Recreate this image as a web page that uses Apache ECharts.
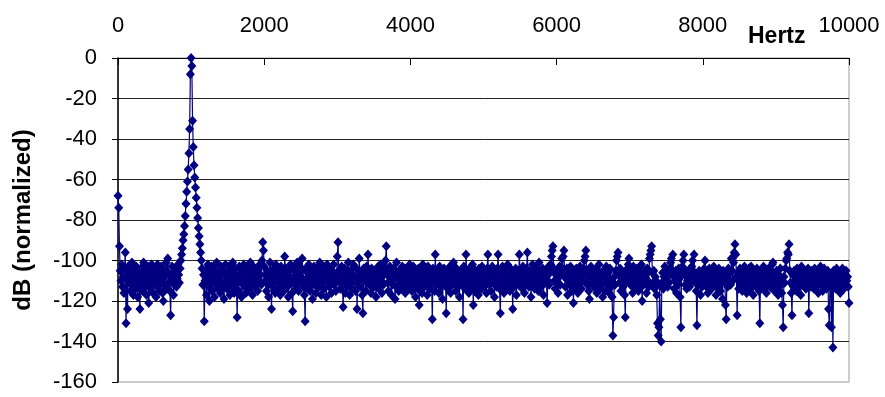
<!DOCTYPE html>
<html>
<head>
<meta charset="utf-8">
<script src="https://cdn.jsdelivr.net/npm/echarts@6/dist/echarts.min.js"></script>
<style>
html,body{margin:0;padding:0;background:#fff;}
#chart{width:885px;height:397px;}
</style>
</head>
<body>
<div id="chart"></div>
<script>
// Frequency bin width (Hz) of the spectrum; bin i is at i * binHz
const binHz = 10;
// Tick labels
const xTicks = [0, 2000, 4000, 6000, 8000, 10000];
const yTicks = [0, -20, -40, -60, -80, -100, -120, -140, -160];
const xName = 'Hertz';
const yName = 'dB (normalized)';
// Spectrum magnitude in dB (normalized), one value per bin, 0..10000 Hz
const dB = [
-68,-74,-93,-105,-110,-102,-113,-108,-116,-104,-96,-131,-107,-124,-103,-111,-106,-115,-109,-101,-112,-117,-105,-108,-114,-103,-110,-118,-106,-112,-124,-104,-109,-115,-107,-101,-113,-110,-105,-117,-108,-103,-121,-111,-106,-114,-102,-109,-116,-107,
-111,-104,-118,-108,-102,-113,-106,-115,-110,-103,-109,-116,-120,-105,-112,-107,-101,-114,-99,-106,-111,-115,-127,-108,-103,-110,-117,-106,-112,-104,-113,-109,-102,-107,-111,-104,-100,-97,-94,-90,-87,-83,-78,-72,-66,-61,-55,-47,-35,-8,
0,-4,-31,-44,-53,-59,-64,-69,-74,-79,-84,-88,-92,-96,-100,-104,-112,-107,-130,-110,-105,-117,-108,-102,-113,-120,-106,-111,-103,-115,-109,-104,-118,-107,-112,-101,-110,-114,-106,-108,-116,-103,-111,-105,-113,-119,-107,-102,-110,-114,
-106,-112,-103,-117,-109,-105,-114,-101,-110,-116,-107,-104,-112,-128,-108,-115,-103,-110,-106,-118,-111,-105,-102,-113,-108,-116,-109,-104,-112,-107,-114,-101,-110,-106,-117,-103,-109,-113,-105,-111,-108,-115,-104,-110,-102,-107,-112,-100,-91,-95,
-103,-110,-107,-115,-105,-112,-118,-108,-101,-111,-124,-106,-113,-104,-109,-116,-102,-110,-107,-114,-105,-111,-117,-103,-108,-112,-106,-115,-98,-104,-110,-107,-113,-118,-105,-109,-102,-111,-116,-125,-108,-104,-112,-106,-114,-101,-109,-115,-107,-103,
-111,-105,-99,-109,-113,-117,-130,-104,-110,-106,-114,-102,-108,-115,-111,-105,-119,-107,-103,-112,-109,-116,-104,-110,-106,-113,-101,-108,-117,-105,-111,-103,-114,-109,-106,-118,-102,-110,-107,-113,-104,-111,-116,-105,-109,-102,-112,-107,-115,-110,
-98,-91,-105,-110,-114,-107,-103,-112,-123,-108,-104,-116,-110,-106,-113,-101,-109,-117,-105,-111,-107,-114,-102,-110,-108,-115,-104,-124,-109,-112,-99,-106,-113,-108,-117,-126,-104,-110,-107,-115,-103,-111,-97,-106,-112,-109,-116,-104,-110,-107,
-113,-105,-109,-118,-106,-111,-103,-114,-108,-102,-110,-116,-105,-112,-107,-104,-100,-93,-106,-111,-115,-108,-103,-110,-117,-106,-112,-104,-109,-119,-107,-101,-113,-108,-115,-105,-110,-106,-114,-103,-109,-112,-107,-116,-104,-110,-105,-113,-108,-102,
-111,-106,-115,-109,-103,-112,-107,-118,-105,-110,-114,-104,-122,-108,-111,-106,-116,-102,-109,-113,-107,-105,-112,-117,-103,-110,-108,-114,-106,-111,-129,-104,-109,-115,-97,-107,-112,-105,-110,-116,-103,-108,-113,-106,-119,-110,-104,-111,-107,-126,
-109,-114,-105,-110,-103,-116,-108,-112,-106,-101,-111,-107,-115,-104,-109,-113,-106,-118,-110,-105,-112,-108,-129,-103,-110,-114,-97,-106,-111,-109,-116,-104,-108,-113,-107,-102,-122,-110,-115,-105,-109,-112,-106,-117,-104,-110,-108,-114,-103,-111,
-107,-113,-105,-110,-116,-104,-97,-109,-112,-106,-115,-108,-103,-111,-107,-118,-105,-110,-113,-104,-97,-109,-114,-126,-106,-111,-103,-108,-116,-105,-110,-113,-107,-102,-112,-108,-115,-104,-109,-111,-124,-106,-113,-108,-104,-117,-110,-105,-112,-97,
-105,-111,-108,-114,-103,-109,-116,-106,-112,-104,-96,-107,-113,-110,-105,-118,-108,-102,-111,-106,-114,-109,-104,-112,-107,-115,-101,-110,-106,-113,-108,-104,-117,-109,-105,-111,-107,-121,-110,-103,-112,-106,-102,-98,-95,-93,-104,-110,-114,-107,
-111,-105,-116,-108,-103,-112,-107,-99,-104,-98,-95,-106,-113,-109,-104,-117,-110,-106,-112,-103,-108,-115,-105,-121,-110,-107,-113,-104,-109,-116,-106,-111,-103,-108,-114,-107,-110,-104,-100,-98,-95,-105,-112,-108,-115,-119,-107,-103,-111,-109,
-105,-113,-108,-110,-104,-116,-107,-111,-102,-109,-114,-106,-112,-118,-105,-110,-107,-115,-103,-109,-112,-106,-116,-104,-110,-113,-118,-137,-128,-108,-112,-105,-100,-98,-96,-107,-111,-104,-115,-109,-106,-113,-108,-117,-128,-105,-110,-104,-102,-99,
-107,-112,-105,-110,-116,-103,-109,-114,-106,-111,-104,-108,-115,-110,-106,-113,-102,-120,-109,-112,-105,-111,-107,-116,-104,-110,-113,-99,-97,-95,-93,-106,-111,-105,-114,-108,-110,-117,-131,-137,-133,-112,-129,-140,-111,-106,-114,-108,-103,-112,
-109,-105,-113,-107,-111,-104,-101,-99,-106,-97,-108,-114,-110,-105,-116,-107,-112,-104,-109,-118,-133,-106,-103,-100,-97,-107,-112,-105,-114,-110,-106,-109,-113,-104,-111,-103,-100,-108,-97,-106,-111,-115,-132,-108,-112,-105,-110,-117,-107,-113,
-105,-110,-104,-100,-108,-113,-106,-116,-109,-104,-111,-107,-114,-105,-110,-103,-112,-108,-117,-106,-110,-113,-104,-109,-115,-107,-111,-119,-105,-110,-106,-122,-129,-108,-113,-104,-110,-106,-112,-99,-105,-110,-101,-96,-92,-97,-108,-127,-106,-114,
-109,-104,-112,-107,-115,-105,-110,-103,-113,-108,-116,-106,-111,-104,-109,-114,-103,-110,-107,-117,-105,-112,-108,-113,-104,-110,-106,-115,-131,-108,-112,-105,-110,-103,-114,-107,-109,-116,-105,-111,-104,-108,-113,-106,-110,-102,-101,-109,-115,-107,
-112,-105,-110,-117,-107,-113,-104,-109,-116,-122,-133,-108,-111,-104,-100,-99,-96,-97,-92,-105,-111,-116,-127,-107,-113,-105,-110,-108,-115,-104,-111,-106,-113,-109,-117,-103,-110,-107,-112,-105,-109,-114,-106,-111,-104,-126,-110,-107,-113,-105,
-110,-107,-114,-104,-111,-106,-113,-108,-116,-105,-110,-103,-112,-107,-115,-109,-104,-111,-106,-114,-108,-105,-124,-132,-109,-112,-133,-107,-143,-105,-111,-108,-114,-104,-110,-106,-113,-107,-116,-105,-111,-104,-109,-114,-107,-112,-105,-110,-108,-113,
-121
];

const seriesData = dB.map((v, i) => [i * binHz, v]);

const chart = echarts.init(document.getElementById('chart'), null, {renderer: 'canvas'});
const font = 'Liberation Sans, Arial, sans-serif';
chart.setOption({
  animation: false,
  backgroundColor: '#ffffff',
  textStyle: {fontFamily: font},
  grid: {left: 118, right: 36, top: 58, bottom: 15, containLabel: false, outerBoundsMode: 'none', show: true, borderColor: '#9a9a9a', borderWidth: 1, backgroundColor: 'transparent'},
  xAxis: {
    type: 'value',
    position: 'top',
    min: xTicks[0],
    max: xTicks[xTicks.length - 1],
    interval: xTicks[1] - xTicks[0],
    name: xName,
    nameLocation: 'end',
    nameGap: -101,
    nameTextStyle: {fontFamily: font, fontWeight: 'bold', fontSize: 23, color: '#000', verticalAlign: 'bottom', padding: [0, 0, 10, 0]},
    axisLine: {show: true, onZero: false, lineStyle: {color: '#000', width: 1}},
    axisTick: {show: true, inside: true, length: 7, lineStyle: {color: '#000'}},
    axisLabel: {fontFamily: font, fontSize: 22, color: '#000', margin: 21, formatter: v => String(v)},
    splitLine: {show: false}
  },
  yAxis: {
    type: 'value',
    min: yTicks[yTicks.length - 1],
    max: yTicks[0],
    interval: 20,
    name: yName,
    nameLocation: 'middle',
    nameRotate: 90,
    nameGap: 83,
    nameTextStyle: {fontFamily: font, fontWeight: 'bold', fontSize: 24, color: '#000'},
    axisLine: {show: true, onZero: false, lineStyle: {color: '#000', width: 1.5}},
    axisTick: {show: true, inside: false, length: 6, lineStyle: {color: '#000'}},
    axisLabel: {fontFamily: font, fontSize: 22, color: '#000', margin: 21, formatter: v => String(v)},
    splitLine: {show: true, showMinLine: false, lineStyle: {color: '#222', width: 1}}
  },
  series: [{
    type: 'line',
    data: seriesData,
    symbol: 'diamond',
    symbolSize: [9, 10],
    showSymbol: true,
    showAllSymbol: true,
    lineStyle: {color: '#000080', width: 1.2},
    itemStyle: {color: '#000080', borderWidth: 0},
    clip: false,
    sampling: null
  }]
});
</script>
</body>
</html>
